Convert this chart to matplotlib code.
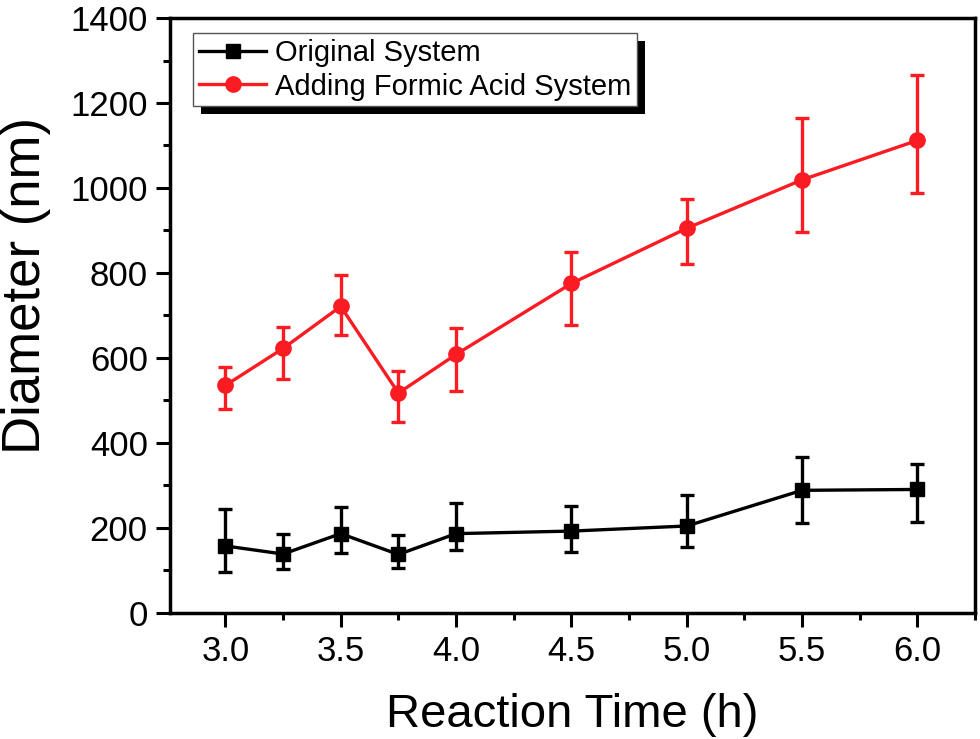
import numpy as np
import matplotlib
matplotlib.use('Agg')
from matplotlib import pyplot as plt
from matplotlib.patches import Rectangle
from matplotlib.ticker import MultipleLocator, FormatStrFormatter

plt.rcParams['font.family'] = ['Liberation Sans', 'DejaVu Sans']

# reaction time (h)
times = [3.0, 3.25, 3.5, 3.75, 4.0, 4.5, 5.0, 5.5, 6.0]

# original system
orig_mean = [157, 138, 186, 137, 186, 192, 204, 288, 290]
orig_upper = [244, 186, 249, 182, 259, 251, 276, 367, 349]
orig_lower = [96, 102, 141, 105, 147, 143, 155, 212, 214]

# adding formic acid system
acid_mean = [535, 622, 721, 517, 608, 775, 905, 1019, 1112]
acid_upper = [578, 672, 796, 569, 670, 849, 975, 1164, 1265]
acid_lower = [480, 549, 653, 449, 522, 678, 822, 896, 989]


def to_err(mean, lower, upper):
    mean = np.array(mean)
    return [mean - np.array(lower), np.array(upper) - mean]


fig = plt.figure(figsize=(9.8, 7.39), dpi=100)
ax = fig.add_axes([0.1735, 0.171, 0.8215, 0.8046])

c1 = ax.errorbar(times, orig_mean, yerr=to_err(orig_mean, orig_lower, orig_upper),
                 color='black', marker='s', markersize=9.5, linewidth=2.4,
                 elinewidth=2.4, capsize=5, capthick=2.4, label='Original System')
c2 = ax.errorbar(times, acid_mean, yerr=to_err(acid_mean, acid_lower, acid_upper),
                 color='#fb1b22', marker='o', markersize=11, linewidth=2.4,
                 elinewidth=2.4, capsize=5, capthick=2.4,
                 label='Adding Formic Acid System')

ax.set_xlim(2.76, 6.25)
ax.set_ylim(0, 1400)
ax.xaxis.set_major_locator(MultipleLocator(0.5))
ax.xaxis.set_minor_locator(MultipleLocator(0.25))
ax.yaxis.set_major_locator(MultipleLocator(200))
ax.yaxis.set_minor_locator(MultipleLocator(100))
ax.xaxis.set_major_formatter(FormatStrFormatter('%.1f'))

for s in ax.spines.values():
    s.set_linewidth(2.5)
ax.tick_params(which='major', direction='out', length=10, width=2.2,
               labelsize=25, pad=6, top=False, right=False)
ax.tick_params(which='minor', direction='out', length=5, width=2.2,
               top=False, right=False)

ax.set_xlabel('Reaction Time (h)', fontsize=34, labelpad=18)
ax.set_ylabel('Diameter (nm)', fontsize=38)
ax.yaxis.set_label_coords(-0.148, 0.55)

# legend shows plain line + marker, no error bars
leg = ax.legend(handles=[c1[0], c2[0]],
                labels=['Original System', 'Adding Formic Acid System'],
                loc='upper left', bbox_to_anchor=(0.029, 0.975), fontsize=21,
                handlelength=2.3, handletextpad=0.3, borderpad=0.2,
                labelspacing=0.2, fancybox=False, framealpha=1,
                edgecolor='#555555', borderaxespad=0)
leg.get_frame().set_linewidth(1.0)

# solid black drop shadow behind the legend box
fig.canvas.draw()
bb = leg.get_window_extent()
inv = ax.transAxes.inverted()
(x0, y0), (x1, y1) = inv.transform([[bb.x0 + 8, bb.y0 - 8], [bb.x1 + 8, bb.y1 - 8]])
ax.add_patch(Rectangle((x0, y0), x1 - x0, y1 - y0, transform=ax.transAxes,
                       facecolor='black', edgecolor='none', zorder=4.9,
                       clip_on=False))

fig.savefig('out.png', dpi=100)
